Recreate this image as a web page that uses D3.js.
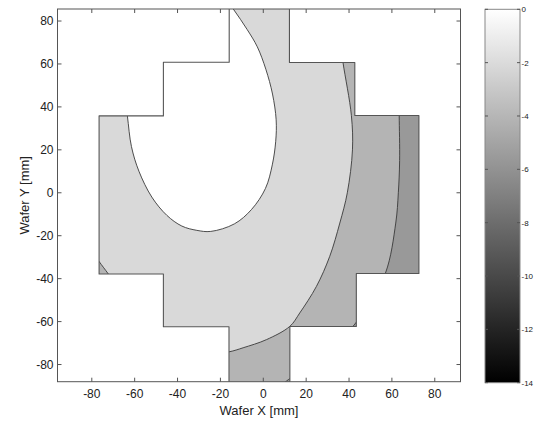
<!DOCTYPE html>
<html>
<head>
<meta charset="utf-8">
<script src="https://cdn.jsdelivr.net/npm/d3@7"></script>
<style>
  html, body { margin: 0; padding: 0; background: #fff; }
  svg { display: block; }
  text { font-family: Arial, "Liberation Sans", sans-serif; fill: #222; }
</style>
</head>
<body>
<svg id="chart" width="542" height="425"></svg>
<script>
// Wafer die layout (stepped cross), in mm
const outlineX = [-15.9, 12.2, 12.2, 42.7, 42.7, 72.6, 72.6, 43.4, 43.4, 12.4, 12.4, -16.0, -16.0, -46.6, -46.6, -76.6, -76.6, -46.6, -46.6, -15.9];
const outlineY = [ 90.0, 90.0, 60.7, 60.7, 36.0, 36.0, -37.6, -37.6, -62.3, -62.3, -92.0, -92.0, -62.4, -62.4, -37.8, -37.8, 35.8, 35.8, 60.8, 60.8];

// Contour: inner ellipse (value 0 region)
const holeX = [-21, -14.0, -7.5, -2.8, 1.2, 4.3, 6.0, 5.8, 4.2, 1.0, -5.5, -13.5, -24.5, -31.0, -38.0, -45.0, -52.0, -58.0, -61.5, -63.4, -65, -64, -58, -48, -34];
const holeY = [ 95, 85.6, 76.0, 68.0, 57.5, 46.0, 34.0, 24.0, 13.0, 2.0, -7.8, -14.5, -18.0, -17.5, -15.5, -10.5, -2.0, 10.0, 21.5, 35.8, 48, 62, 76, 88, 97];

// Contour: outer boundary of the -2 band
const arc1X = [36.0, 37.2, 41.1, 41.6, 39.2, 35.7, 31.0, 24.8, 17.0, 12.4, 1.5, -9.4, -16.0, -30, -45, -60, -72.3, -76.6, -80];
const arc1Y = [70.0, 60.6, 36.0, 20.0, 0.0, -14.1, -29.6, -43.6, -56.0, -62.2, -68.4, -72.2, -74.1, -76, -68, -55, -37.8, -32.0, -27];

// Contour: outer boundary of the -4 band
const arc2X = [63.3, 63.4, 63.6, 63.0, 61.8, 57.0, 46, 30, 12.4, 8.0];
const arc2Y = [45.0, 36.0, 15.0, 0.0, -14.1, -37.4, -57, -74, -86.5, -90];

// Fill value of each band
const bandValues = [0, -2.1, -4.1, -5.6];

// Axes ticks
const xTicks = [-80, -60, -40, -20, 0, 20, 40, 60, 80];
const yTicks = [-80, -60, -40, -20, 0, 20, 40, 60, 80];
const cbarTicks = [0, -2, -4, -6, -8, -10, -12, -14];

const svg = d3.select("#chart");

const plot = { left: 57.5, right: 460.5, top: 9, bottom: 381.7 };
const x = d3.scaleLinear().domain([-96, 92]).range([plot.left, plot.right]);
const y = d3.scaleLinear().domain([-88, 85.6]).range([plot.bottom, plot.top]);
const gray = d3.scaleLinear().domain([-14, 0]).range(["#000000", "#ffffff"]);

const pts = (xs, ys) => xs.map((v, i) => [x(v), y(ys[i])]);
const closed = d3.line().curve(d3.curveLinearClosed);
const smooth = d3.line().curve(d3.curveCatmullRom.alpha(0.5));

const outline = pts(outlineX, outlineY);

const defs = svg.append("defs");
defs.append("clipPath").attr("id", "wafer")
  .append("path").attr("d", closed(outline));
defs.append("clipPath").attr("id", "plotArea")
  .append("rect").attr("x", plot.left).attr("y", plot.top)
  .attr("width", plot.right - plot.left).attr("height", plot.bottom - plot.top);

const frame = svg.append("g").attr("clip-path", "url(#plotArea)");
const g = frame.append("g").attr("clip-path", "url(#wafer)");

// Base band
g.append("path").attr("d", closed(outline)).attr("fill", gray(bandValues[1]));

// -4 band: everything beyond arc1
const arc1 = pts(arc1X, arc1Y);
const band2 = smooth(arc1) + "L" + [[x(-100), y(-27)], [x(-100), y(-100)], [x(100), y(-100)], [x(100), y(100)], [x(36), y(100)]].join("L") + "Z";
g.append("path").attr("d", band2).attr("fill", gray(bandValues[2]));

// -6 band: everything beyond arc2
const arc2 = pts(arc2X, arc2Y);
const band3 = smooth(arc2) + "L" + [[x(8), y(-100)], [x(100), y(-100)], [x(100), y(100)], [x(63.3), y(100)]].join("L") + "Z";
g.append("path").attr("d", band3).attr("fill", gray(bandValues[3]));

// Inner ellipse
const hole = pts(holeX, holeY);
g.append("path").attr("d", d3.line().curve(d3.curveCatmullRomClosed.alpha(0.5))(hole))
  .attr("fill", gray(bandValues[0]))
  .attr("stroke", "#3a3a3a").attr("stroke-width", 0.9);

// Contour lines
[arc1, arc2].forEach(a => {
  g.append("path").attr("d", smooth(a)).attr("fill", "none")
    .attr("stroke", "#3a3a3a").attr("stroke-width", 0.9);
});

// Wafer outline
frame.append("path").attr("d", closed(outline)).attr("fill", "none")
  .attr("stroke", "#555").attr("stroke-width", 1.1).attr("stroke-linejoin", "round");

// Axes box with inward ticks (all four sides)
const tl = 4;
const axes = svg.append("g").attr("stroke", "#555").attr("stroke-width", 1);
axes.append("rect").attr("x", plot.left).attr("y", plot.top)
  .attr("width", plot.right - plot.left).attr("height", plot.bottom - plot.top).attr("fill", "none");
xTicks.forEach(t => {
  axes.append("line").attr("x1", x(t)).attr("x2", x(t)).attr("y1", plot.bottom).attr("y2", plot.bottom - tl);
  axes.append("line").attr("x1", x(t)).attr("x2", x(t)).attr("y1", plot.top).attr("y2", plot.top + tl);
});
yTicks.forEach(t => {
  axes.append("line").attr("y1", y(t)).attr("y2", y(t)).attr("x1", plot.left).attr("x2", plot.left + tl);
  axes.append("line").attr("y1", y(t)).attr("y2", y(t)).attr("x1", plot.right).attr("x2", plot.right - tl);
});

svg.append("g").selectAll("text").data(xTicks).join("text")
  .attr("x", d => x(d)).attr("y", plot.bottom + 16)
  .attr("text-anchor", "middle").attr("font-size", 12).text(d => d);
svg.append("g").selectAll("text").data(yTicks).join("text")
  .attr("x", plot.left - 4).attr("y", d => y(d) + 4)
  .attr("text-anchor", "end").attr("font-size", 12).text(d => d);

svg.append("text").attr("x", 259).attr("y", 415).attr("text-anchor", "middle")
  .attr("font-size", 13).text("Wafer X [mm]");
svg.append("text").attr("transform", `translate(29,${(plot.top + plot.bottom) / 2}) rotate(-90)`)
  .attr("text-anchor", "middle").attr("font-size", 13).text("Wafer Y [mm]");

// Colorbar
const cb = { left: 485, right: 520, top: 9.3, bottom: 382.7 };
const cy = d3.scaleLinear().domain([0, -14]).range([cb.top, cb.bottom]);
const grad = defs.append("linearGradient").attr("id", "cbar")
  .attr("x1", 0).attr("x2", 0).attr("y1", 0).attr("y2", 1);
d3.range(0, -14.01, -1).forEach(v => {
  grad.append("stop").attr("offset", (cy(v) - cb.top) / (cb.bottom - cb.top)).attr("stop-color", gray(v));
});
svg.append("rect").attr("x", cb.left).attr("y", cb.top)
  .attr("width", cb.right - cb.left).attr("height", cb.bottom - cb.top)
  .attr("fill", "url(#cbar)").attr("stroke", "#888").attr("stroke-width", 1);
const cbt = svg.append("g").attr("stroke", "#555").attr("stroke-width", 1);
cbarTicks.forEach(t => {
  cbt.append("line").attr("x1", cb.left).attr("x2", cb.left + 3).attr("y1", cy(t)).attr("y2", cy(t));
  cbt.append("line").attr("x1", cb.right).attr("x2", cb.right - 3).attr("y1", cy(t)).attr("y2", cy(t));
});
svg.append("g").selectAll("text").data(cbarTicks).join("text")
  .attr("x", cb.right + 1.5).attr("y", d => cy(d) + 3)
  .attr("font-size", 8).attr("fill", "#333").text(d => d);
</script>
</body>
</html>
